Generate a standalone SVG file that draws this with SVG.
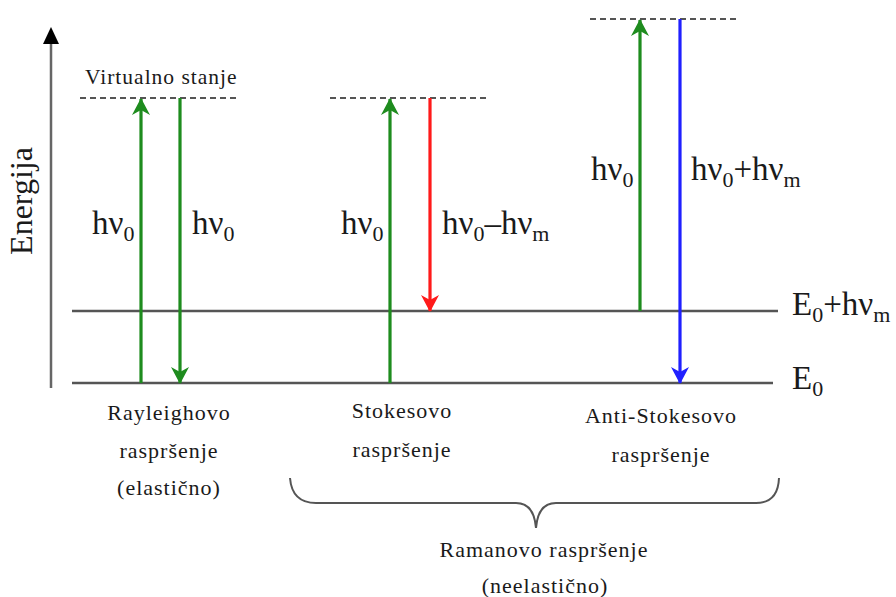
<svg xmlns="http://www.w3.org/2000/svg" width="896" height="597" viewBox="0 0 896 597">
<defs>
<style>
.t{font-family:"Liberation Serif","Times New Roman",serif;fill:#1a1a1a}
.lbl{font-size:22px;letter-spacing:1px}
.big{font-size:33px}
.sub{font-size:22px}
.lvl{stroke:#555;stroke-width:2.5;fill:none}
.dash{stroke:#555;stroke-width:2;stroke-dasharray:6 4;fill:none}
.g{stroke:#1e8c1e;stroke-width:3.2;fill:none}
.r{stroke:#ff1a1a;stroke-width:3.2;fill:none}
.b{stroke:#2020ff;stroke-width:3.2;fill:none}
</style>
<marker id="mg" markerWidth="20" markerHeight="18" refX="19" refY="9" orient="auto" markerUnits="userSpaceOnUse" viewBox="0 0 20 18"><path d="M20,9 L3,0 L8,9 L3,18 Z" fill="#1e8c1e"/></marker>
<marker id="mr" markerWidth="20" markerHeight="18" refX="19" refY="9" orient="auto" markerUnits="userSpaceOnUse" viewBox="0 0 20 18"><path d="M20,9 L3,0 L8,9 L3,18 Z" fill="#ff1a1a"/></marker>
<marker id="mb" markerWidth="20" markerHeight="18" refX="19" refY="9" orient="auto" markerUnits="userSpaceOnUse" viewBox="0 0 20 18"><path d="M20,9 L3,0 L8,9 L3,18 Z" fill="#2020ff"/></marker>
</defs>
<rect width="896" height="597" fill="#fff"/>

<g id="axis">
<line x1="51" y1="388" x2="51" y2="40" stroke="#666" stroke-width="2.5"/>
<path d="M51,27 L43,44 L59,44 Z" fill="#000"/>
<text class="t" font-size="32" transform="translate(32,201) rotate(-90)" text-anchor="middle">Energija</text>
</g>

<g id="levels">
<line class="lvl" x1="72" y1="311" x2="778" y2="311"/>
<line class="lvl" x1="72" y1="383" x2="773" y2="383"/>
<text class="t big" x="792" y="315">E<tspan class="sub" dy="7">0</tspan><tspan dy="-7">+hν</tspan><tspan class="sub" dy="7">m</tspan></text>
<text class="t big" x="792" y="389">E<tspan class="sub" dy="7">0</tspan></text>
</g>

<g id="virtual">
<line class="dash" x1="80" y1="98" x2="240" y2="98"/>
<line class="dash" x1="330" y1="98" x2="490" y2="98"/>
<line class="dash" x1="590" y1="19" x2="740" y2="19"/>
<text class="t" font-size="21.5" letter-spacing="1" x="85" y="84">Virtualno stanje</text>
</g>

<g id="connectors">
<line class="g" x1="141" y1="383" x2="141" y2="99" marker-end="url(#mg)"/>
<line class="g" x1="180" y1="98" x2="180" y2="383" marker-end="url(#mg)"/>
<line class="g" x1="390" y1="383" x2="390" y2="99" marker-end="url(#mg)"/>
<line class="r" x1="430" y1="98" x2="430" y2="311" marker-end="url(#mr)"/>
<line class="g" x1="640" y1="311" x2="640" y2="20" marker-end="url(#mg)"/>
<line class="b" x1="680" y1="19" x2="680" y2="383" marker-end="url(#mb)"/>
</g>

<g id="rayleigh">
<text class="t big" x="92" y="234">hν<tspan class="sub" dy="7">0</tspan></text>
<text class="t big" x="192" y="234">hν<tspan class="sub" dy="7">0</tspan></text>
<text class="t lbl" x="169" y="420" text-anchor="middle">Rayleighovo</text>
<text class="t lbl" x="169" y="458" text-anchor="middle">raspršenje</text>
<text class="t lbl" x="169" y="495" text-anchor="middle">(elastično)</text>
</g>

<g id="stokes">
<text class="t big" x="341" y="234">hν<tspan class="sub" dy="7">0</tspan></text>
<text class="t big" x="442" y="234">hν<tspan class="sub" dy="7">0</tspan><tspan dy="-7">–hν</tspan><tspan class="sub" dy="7">m</tspan></text>
<text class="t lbl" x="402" y="418" text-anchor="middle">Stokesovo</text>
<text class="t lbl" x="402" y="457" text-anchor="middle">raspršenje</text>
</g>

<g id="antistokes">
<text class="t big" x="591" y="180">hν<tspan class="sub" dy="7">0</tspan></text>
<text class="t big" x="691" y="180">hν<tspan class="sub" dy="7">0</tspan><tspan dy="-7">+hν</tspan><tspan class="sub" dy="7">m</tspan></text>
<text class="t lbl" x="661" y="423" text-anchor="middle">Anti-Stokesovo</text>
<text class="t lbl" x="661" y="462" text-anchor="middle">raspršenje</text>
</g>

<g id="raman">
<path d="M290,478 Q292,503 316,503 L516,503 Q534,503 536,528 Q538,503 556,503 L756,503 Q778,503 779,478" fill="none" stroke="#555" stroke-width="2"/>
<text class="t lbl" x="544" y="557" text-anchor="middle">Ramanovo raspršenje</text>
<text class="t lbl" x="545" y="593" text-anchor="middle">(neelastično)</text>
</g>
</svg>
